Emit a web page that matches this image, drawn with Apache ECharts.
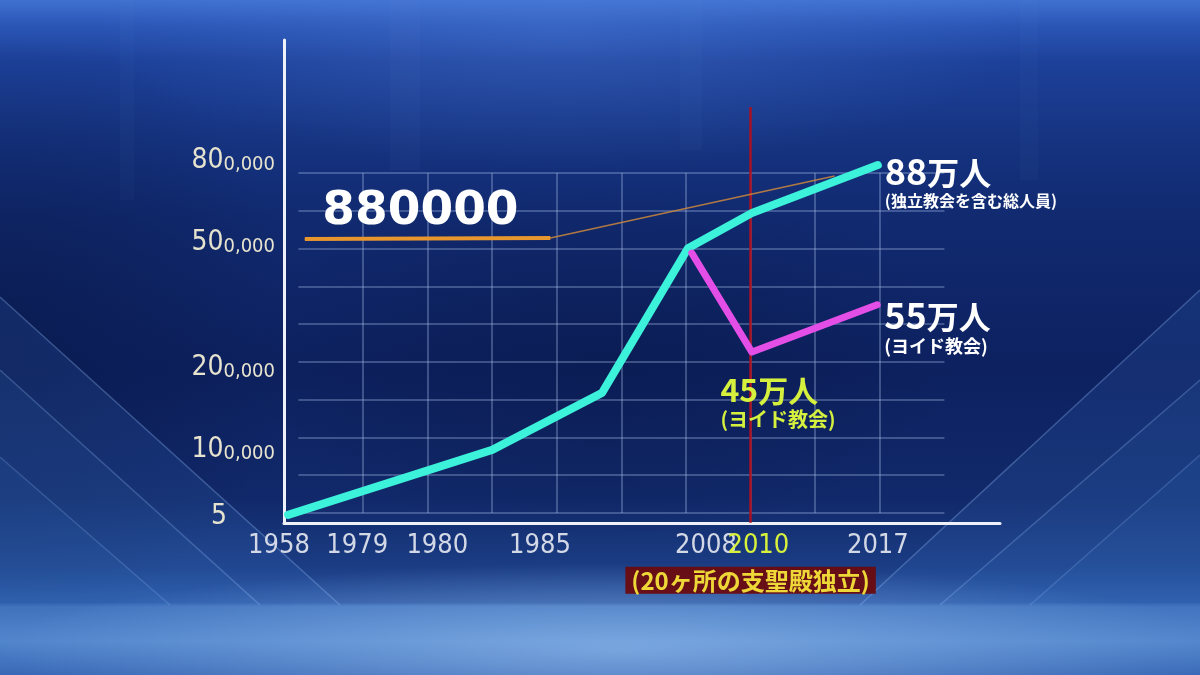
<!DOCTYPE html>
<html><head><meta charset="utf-8">
<script src="https://cdn.jsdelivr.net/npm/echarts@6/dist/echarts.min.js"></script>
<style>
html,body{margin:0;padding:0;width:1200px;height:675px;overflow:hidden;background:#0d2262;}
#bg{position:absolute;left:0;top:0;}
#chart{position:absolute;left:0;top:0;width:1200px;height:675px;}
</style></head><body>
<svg id="bg" width="1200" height="675" xmlns="http://www.w3.org/2000/svg">
<defs>
<linearGradient id="g0" x1="0" y1="0" x2="0" y2="1">
<stop offset="0" stop-color="#3f70d0"/>
<stop offset="0.04" stop-color="#2a55b5"/>
<stop offset="0.09" stop-color="#1d419a"/>
<stop offset="0.20" stop-color="#163482"/>
<stop offset="0.32" stop-color="#112a70"/>
<stop offset="0.55" stop-color="#0d2160"/>
<stop offset="0.74" stop-color="#11296a"/>
<stop offset="0.84" stop-color="#1b3d84"/>
<stop offset="0.893" stop-color="#2a55a2"/>
<stop offset="0.898" stop-color="#4274bf"/>
<stop offset="0.95" stop-color="#5185cc"/>
<stop offset="1" stop-color="#3968b6"/>
</linearGradient>
<radialGradient id="gTop" gradientUnits="userSpaceOnUse" cx="560" cy="30" r="460" gradientTransform="translate(0,30) scale(1,0.3) translate(0,-30)">
<stop offset="0" stop-color="#5a8ae6" stop-opacity="0.3"/>
<stop offset="1" stop-color="#5a8ae6" stop-opacity="0"/>
</radialGradient>
<radialGradient id="gBot" gradientUnits="userSpaceOnUse" cx="620" cy="650" r="620" gradientTransform="translate(0,650) scale(1,0.14) translate(0,-650)">
<stop offset="0" stop-color="#9cc4f0" stop-opacity="0.55"/>
<stop offset="1" stop-color="#9cc4f0" stop-opacity="0"/>
</radialGradient>
<radialGradient id="gSide" gradientUnits="userSpaceOnUse" cx="0" cy="330" r="300">
<stop offset="0" stop-color="#06133d" stop-opacity="0.45"/>
<stop offset="1" stop-color="#06133d" stop-opacity="0"/>
</radialGradient>
<radialGradient id="gMid" gradientUnits="userSpaceOnUse" cx="600" cy="360" r="360" gradientTransform="translate(0,360) scale(1,0.5) translate(0,-360)">
<stop offset="0" stop-color="#07143e" stop-opacity="0.35"/>
<stop offset="1" stop-color="#07143e" stop-opacity="0"/>
</radialGradient>
</defs>
<rect width="1200" height="675" fill="url(#g0)"/>
<rect width="1200" height="675" fill="url(#gTop)"/>
<rect width="1200" height="675" fill="url(#gSide)"/>
<rect width="1200" height="675" fill="url(#gMid)"/>
<rect x="120" y="0" width="14" height="200" fill="rgba(120,160,240,0.035)"/>
<rect x="390" y="0" width="30" height="170" fill="rgba(120,160,240,0.04)"/>
<rect x="680" y="0" width="22" height="150" fill="rgba(120,160,240,0.035)"/>
<rect x="1020" y="0" width="18" height="180" fill="rgba(120,160,240,0.035)"/>
<polygon points="0,297 340,605 0,605" fill="rgba(70,130,215,0.15)"/>
<polygon points="0,370 260,605 0,605" fill="rgba(70,130,215,0.09)"/>
<polygon points="0,457 170,605 0,605" fill="rgba(70,130,215,0.09)"/>
<line x1="0" y1="297" x2="340" y2="605" stroke="rgba(150,190,245,0.32)" stroke-width="1.5"/>
<line x1="0" y1="370" x2="260" y2="605" stroke="rgba(150,190,245,0.28)" stroke-width="1.5"/>
<line x1="0" y1="457" x2="170" y2="605" stroke="rgba(150,190,245,0.22)" stroke-width="1.5"/>
<polygon points="1200,290 860,605 1200,605" fill="rgba(70,130,215,0.15)"/>
<polygon points="1200,380 940,605 1200,605" fill="rgba(70,130,215,0.09)"/>
<polygon points="1200,455 1030,605 1200,605" fill="rgba(70,130,215,0.09)"/>
<line x1="1200" y1="290" x2="860" y2="605" stroke="rgba(150,190,245,0.32)" stroke-width="1.5"/>
<line x1="1200" y1="380" x2="940" y2="605" stroke="rgba(150,190,245,0.28)" stroke-width="1.5"/>
<line x1="1200" y1="455" x2="1030" y2="605" stroke="rgba(150,190,245,0.22)" stroke-width="1.5"/>
<rect width="1200" height="675" fill="url(#gBot)"/>
</svg>
<div id="chart"></div>
<script>
// ---------- data (positions on the drawing's stylised axes) ----------
const xTickLabels = ['1958', '1979', '1980', '1985', '2008', '2010', '2017'];
const xTickPos    = [-0.30, 0.91, 2.15, 3.74, 6.31, 7.12, 8.97];
const highlightYear = '2010';

const yTickValues = [5, 100000, 200000, 500000, 800000];
const yTickPos    = [-0.11, 1.67, 3.84, 7.15, 9.32];

// total members incl. independent churches (cyan)
const totalMembers = [[-0.16, -0.05], [3.00, 1.67], [4.70, 3.18], [6.03, 7.01], [7.02, 7.94], [8.97, 9.21]];
// Yoido church (magenta)
const yoidoMembers = [[6.09, 6.88], [7.02, 4.26], [8.96, 5.51]];
// 880000 reference line (orange)
const refLine = [[0.10, 7.25], [3.90, 7.28], [8.30, 8.92]];
const refLabel = '880000';

const totalLabel = { num: '88', unit: '万人', note: '(独立教会を含む総人員)' };
const yoidoEndLabel = { num: '55', unit: '万人', note: '(ヨイド教会)' };
const yoidoLowLabel = { num: '45', unit: '万人', note: '(ヨイド教会)' };

const eventPos = 7.0;              // 2010
const eventSpan = [10.75, -0.26];
const eventText = '(20ヶ所の支聖殿独立)';

// ---------- layout ----------
const X0 = 298.4, COL = 64.6, Y0 = 513, ROW = 340 / 9;
function box(L, T, R, B) {
  return { grid: { left: L, top: T, width: R - L, height: B - T },
           xmin: (L - X0) / COL, xmax: (R - X0) / COL,
           ymin: (Y0 - B) / ROW, ymax: (Y0 - T) / ROW };
}
const g0 = box(298.4, 173, 944.4, 513);
const g1 = box(284, 40, 1000, 523);
const g2 = box(180, 40, 1000, 523);

const FN = "'Liberation Sans Narrow','DejaVu Sans Condensed','Liberation Sans',sans-serif";
const FJ = "'Noto Sans CJK JP','Noto Sans',sans-serif";

function nearest(arr, v) {
  let bi = 0, bd = Infinity;
  arr.forEach((p, i) => { const d = Math.abs(p - v); if (d < bd) { bd = d; bi = i; } });
  return bi;
}
const gridLine = { color: 'rgba(175,195,235,0.42)', width: 1.5 };
const white = '#eef1f8';

function bigRich(color, n, u, s, lh1, lh2) {
  return {
    n: { fontFamily: FJ, fontSize: n, fontWeight: 'bold', color: color, lineHeight: lh1, verticalAlign: 'bottom' },
    u: { fontFamily: FJ, fontSize: u, fontWeight: 'bold', color: color, lineHeight: lh1, verticalAlign: 'bottom' },
    s: { fontFamily: FJ, fontSize: s, fontWeight: 'bold', color: color, lineHeight: lh2 }
  };
}
function bigText(o) { return '{n|' + o.num + '}{u|' + o.unit + '}\n{s|' + o.note + '}'; }

const option = {
  animation: false,
  backgroundColor: 'transparent',
  grid: [g0.grid, g1.grid, g2.grid],
  xAxis: [
    { gridIndex: 0, type: 'value', min: 0, max: 10, interval: 1,
      axisLine: { show: false }, axisTick: { show: false }, axisLabel: { show: false },
      splitLine: { show: true, showMinLine: false, showMaxLine: false, lineStyle: gridLine } },
    { gridIndex: 1, type: 'value', min: g1.xmin, max: g1.xmax,
      axisLine: { show: true, onZero: false, lineStyle: { color: white, width: 3 } },
      axisTick: { show: false }, axisLabel: { show: false }, splitLine: { show: false } },
    { gridIndex: 2, type: 'value', min: g2.xmin, max: g2.xmax,
      axisLine: { show: false }, axisTick: { show: false }, splitLine: { show: false },
      axisLabel: {
        show: true, customValues: xTickPos, margin: 9,
        formatter: function (v) {
          const t = xTickLabels[nearest(xTickPos, v)];
          return t === highlightYear ? '{hl|' + t + '}' : '{n|' + t + '}';
        },
        rich: {
          n: { fontFamily: FN, fontSize: 27, color: '#d3d8e6' },
          hl: { fontFamily: FN, fontSize: 27, color: '#d8f23c' }
        }
      } }
  ],
  yAxis: [
    { gridIndex: 0, type: 'value', min: 0, max: 9, interval: 1,
      axisLine: { show: false }, axisTick: { show: false }, axisLabel: { show: false },
      splitLine: { show: true, showMinLine: true, showMaxLine: true, lineStyle: gridLine } },
    { gridIndex: 1, type: 'value', min: g1.ymin, max: g1.ymax,
      axisLine: { show: true, onZero: false, lineStyle: { color: white, width: 3 } },
      axisTick: { show: false }, splitLine: { show: false },
      axisLabel: {
        show: true, customValues: yTickPos, margin: 9, align: 'right',
        formatter: function (v) {
          const val = yTickValues[nearest(yTickPos, v)];
          const s = val.toLocaleString('en-US');
          if (s.length < 3) return '{one|' + s + '}';
          return '{b|' + s.slice(0, 2) + '}{s|' + s.slice(2) + '}';
        },
        rich: {
          b: { fontFamily: FN, fontSize: 28, color: '#e6e3cf', verticalAlign: 'bottom', lineHeight: 28 },
          s: { fontFamily: FN, fontSize: 20, color: '#e6e3cf', verticalAlign: 'bottom', lineHeight: 28 },
          one: { fontFamily: FN, fontSize: 28, color: '#e6e3cf', padding: [0, 48, 0, 0] }
        }
      } },
    { gridIndex: 2, type: 'value', min: g2.ymin, max: g2.ymax, show: false }
  ],
  series: [
    { type: 'line', xAxisIndex: 1, yAxisIndex: 1, z: 3,
      symbol: 'circle', symbolSize: 1, itemStyle: { color: '#e8962e' },
      lineStyle: { color: '#e8962e', width: 4 },
      data: [
        { value: refLine[0], label: { show: true, formatter: refLabel, position: [18, -50],
          fontFamily: "'DejaVu Sans',sans-serif", fontWeight: 'bold', fontSize: 47, color: '#ffffff' } },
        refLine[1]
      ] },
    { type: 'line', xAxisIndex: 1, yAxisIndex: 1, z: 3,
      symbol: 'none', lineStyle: { color: 'rgba(205,135,60,0.85)', width: 1.6 },
      data: refLine.slice(1) },
    { type: 'line', xAxisIndex: 1, yAxisIndex: 1, z: 4,
      symbol: 'circle', symbolSize: 1, itemStyle: { color: '#3cf2da' },
      lineStyle: { color: '#3cf2da', width: 8, cap: 'round', join: 'round' },
      data: totalMembers,
      endLabel: { show: true, distance: 7, offset: [0, 16], align: 'left',
        formatter: bigText(totalLabel), rich: bigRich('#ffffff', 36, 32, 16, 40, 24) },
      markLine: {
        silent: true, z: 1, symbol: ['none', 'none'],
        lineStyle: { color: '#ad1020', width: 2.5, type: 'solid', opacity: 0.95 },
        label: { show: true, position: 'end', distance: 44, formatter: eventText,
          fontFamily: FJ, fontSize: 24, fontWeight: 'bold', color: '#f5e43a',
          backgroundColor: '#6a0b10', padding: [2, 6, 1, 6] },
        data: [[{ xAxis: eventPos, yAxis: eventSpan[0] }, { xAxis: eventPos, yAxis: eventSpan[1] }]]
      } },
    { type: 'line', xAxisIndex: 1, yAxisIndex: 1, z: 5,
      symbol: 'circle', symbolSize: 1, itemStyle: { color: '#e24ee6' },
      lineStyle: { color: '#e24ee6', width: 7, cap: 'round', join: 'round' },
      data: [
        yoidoMembers[0],
        { value: yoidoMembers[1], label: { show: true, position: [-31, 16],
          formatter: bigText(yoidoLowLabel), rich: bigRich('#d6f03e', 32, 30, 20, 38, 28) } },
        yoidoMembers[2]
      ],
      endLabel: { show: true, distance: 7, offset: [0, 21], align: 'left',
        formatter: bigText(yoidoEndLabel), rich: bigRich('#ffffff', 36, 32, 18, 40, 26) } }
  ]
};
const chart = echarts.init(document.getElementById('chart'), null, { renderer: 'canvas' });
chart.setOption(option);
</script>
</body></html>
